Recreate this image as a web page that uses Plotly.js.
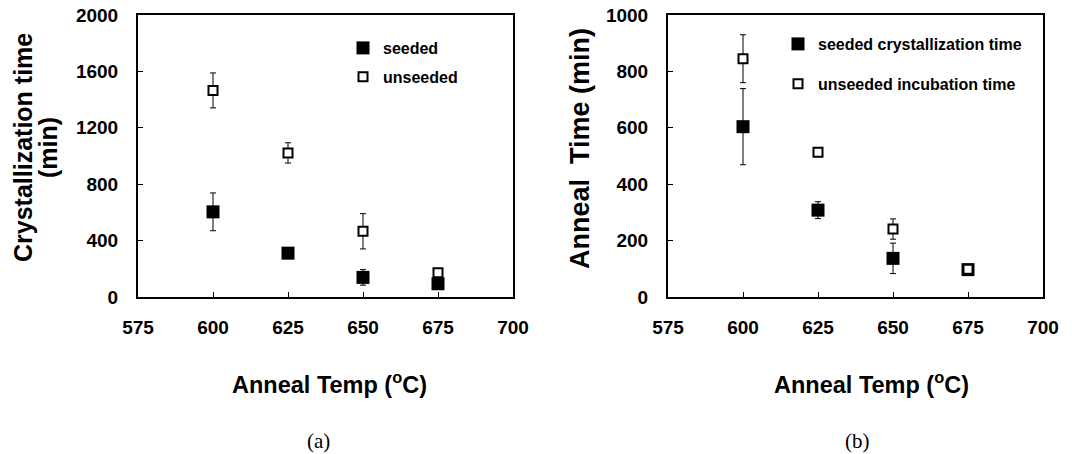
<!DOCTYPE html>
<html>
<head>
<meta charset="utf-8">
<script src="https://cdn.plot.ly/plotly-3.0.1.min.js"></script>
<style>
  html, body { margin: 0; padding: 0; background: #ffffff; }
  #chart { width: 1072px; height: 454px; }
</style>
</head>
<body>
<div id="chart"></div>
<script>
// Anneal temperatures (deg C)
const annealTemps = [600, 625, 650, 675];
const xTicks = [575, 600, 625, 650, 675, 700];

// Panel (a): crystallization time (min)
const seededA = [604, 311, 139, 94];
const seededAErr = [134, 28, 55, 0];
const unseededA = [1465, 1022, 466, 172];
const unseededAErr = [124, 72, 125, 0];
const yTicksA = [0, 400, 800, 1200, 1600, 2000];

// Panel (b): anneal time (min)
const seededB = [604, 308, 137, 97];
const seededBErr = [135, 30, 54, 0];
const unseededB = [845, 513, 241, 98];
const unseededBErr = [85, 0, 36, 0];
const yTicksB = [0, 200, 400, 600, 800, 1000];

const W = 1072, H = 454;
const px = v => v / W;
const py = v => 1 - v / H;

const SANS = '"Liberation Sans", Arial, sans-serif';
const SERIF = '"Liberation Serif", "Times New Roman", serif';
const bold = v => '<b>' + v + '</b>';

function errBars(arr) {
  return { type: 'data', array: arr, visible: true, color: '#000', thickness: 1, width: 3 };
}
const filledMarker = { symbol: 'square', size: 13, color: '#000', line: { width: 0 } };
const openMarker = { symbol: 'square', size: 9, color: '#fff', line: { color: '#000', width: 2 } };

const traces = [
  { x: annealTemps, y: seededA, error_y: errBars(seededAErr), type: 'scatter', mode: 'markers',
    name: bold('seeded'), marker: filledMarker, xaxis: 'x', yaxis: 'y', legend: 'legend', legendgroup: 'a1' },
  { x: annealTemps, y: unseededA, error_y: errBars(unseededAErr), type: 'scatter', mode: 'markers',
    name: bold('unseeded'), marker: openMarker, xaxis: 'x', yaxis: 'y', legend: 'legend', legendgroup: 'a2' },
  { x: annealTemps, y: seededB, error_y: errBars(seededBErr), type: 'scatter', mode: 'markers',
    name: bold('seeded crystallization time'), marker: filledMarker, xaxis: 'x2', yaxis: 'y2', legend: 'legend2', legendgroup: 'b1' },
  { x: annealTemps, y: unseededB, error_y: errBars(unseededBErr), type: 'scatter', mode: 'markers',
    name: bold('unseeded incubation time'), marker: openMarker, xaxis: 'x2', yaxis: 'y2', legend: 'legend2', legendgroup: 'b2' }
];

const tickFont = { family: SANS, size: 19, color: '#000' };

function xAxis(domain, anchor) {
  return {
    domain: domain, anchor: anchor, range: [575, 700], tickvals: xTicks, ticktext: xTicks.map(bold),
    ticks: 'inside', ticklen: 5, tickwidth: 1, tickcolor: '#000', ticklabelstandoff: 12,
    showline: true, linewidth: 2, linecolor: '#000', mirror: true,
    showgrid: false, zeroline: false, tickfont: tickFont, fixedrange: true
  };
}
function yAxis(range, tickvals, anchor) {
  return {
    domain: [py(297), py(15)], anchor: anchor, range: range, tickvals: tickvals, ticktext: tickvals.map(bold),
    ticks: 'inside', ticklen: 5, tickwidth: 1, tickcolor: '#000', ticklabelstandoff: 14,
    showline: true, linewidth: 2, linecolor: '#000', mirror: true,
    showgrid: false, zeroline: false, tickfont: tickFont, fixedrange: true
  };
}

const legendFont = { family: SANS, size: 16, color: '#000' };

const layout = {
  width: W, height: H,
  margin: { l: 0, r: 0, t: 0, b: 0 },
  paper_bgcolor: '#fff', plot_bgcolor: '#fff',
  showlegend: true,
  xaxis: xAxis([px(138), px(513)], 'y'),
  yaxis: yAxis([0, 2000], yTicksA, 'x'),
  xaxis2: xAxis([px(668), px(1043)], 'y2'),
  yaxis2: yAxis([0, 1000], yTicksB, 'x2'),
  legend: {
    x: px(343), y: py(31), xanchor: 'left', yanchor: 'top',
    bgcolor: 'rgba(0,0,0,0)', borderwidth: 0, font: legendFont,
    traceorder: 'grouped', tracegroupgap: 5, itemclick: false, itemdoubleclick: false
  },
  legend2: {
    x: px(778), y: py(27), xanchor: 'left', yanchor: 'top',
    bgcolor: 'rgba(0,0,0,0)', borderwidth: 0, font: legendFont,
    traceorder: 'grouped', tracegroupgap: 16, itemclick: false, itemdoubleclick: false
  },
  annotations: [
    { text: bold('Crystallization time'), xref: 'paper', yref: 'paper', x: px(23), y: py(148),
      xanchor: 'center', yanchor: 'middle', textangle: -90, showarrow: false,
      font: { family: SANS, size: 25, color: '#000' } },
    { text: bold('(min)'), xref: 'paper', yref: 'paper', x: px(48), y: py(148),
      xanchor: 'center', yanchor: 'middle', textangle: -90, showarrow: false,
      font: { family: SANS, size: 25, color: '#000' } },
    { text: bold('Anneal\u00a0\u00a0Time (min)'), xref: 'paper', yref: 'paper', x: px(580), y: py(149),
      xanchor: 'center', yanchor: 'middle', textangle: -90, showarrow: false,
      font: { family: SANS, size: 27, color: '#000' } },
    { text: bold('Anneal Temp (<sup>o</sup>C)'), xref: 'paper', yref: 'paper', x: px(330), y: py(383),
      xanchor: 'center', yanchor: 'middle', showarrow: false,
      font: { family: SANS, size: 23.5, color: '#000' } },
    { text: bold('Anneal Temp (<sup>o</sup>C)'), xref: 'paper', yref: 'paper', x: px(871), y: py(383),
      xanchor: 'center', yanchor: 'middle', showarrow: false,
      font: { family: SANS, size: 23.5, color: '#000' } },
    { text: '(a)', xref: 'paper', yref: 'paper', x: px(318), y: py(441),
      xanchor: 'center', yanchor: 'middle', showarrow: false,
      font: { family: SERIF, size: 21, color: '#000' } },
    { text: '(b)', xref: 'paper', yref: 'paper', x: px(857), y: py(441),
      xanchor: 'center', yanchor: 'middle', showarrow: false,
      font: { family: SERIF, size: 21, color: '#000' } }
  ]
};

Plotly.newPlot('chart', traces, layout, { displayModeBar: false, staticPlot: true });
</script>
</body>
</html>
